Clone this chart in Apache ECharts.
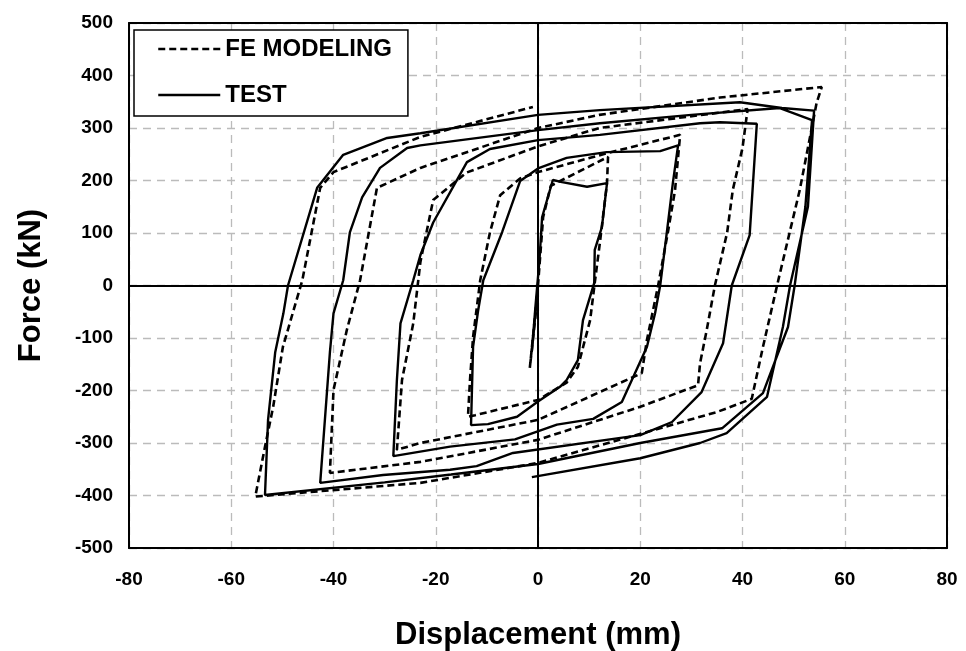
<!DOCTYPE html>
<html>
<head>
<meta charset="utf-8">
<script src="https://cdn.jsdelivr.net/npm/echarts@6/dist/echarts.min.js"></script>
<style>
html,body{margin:0;padding:0;background:#fff;}
#c{width:966px;height:651px;}
</style>
</head>
<body>
<div id="c"></div>
<script>
// Displacement (mm), Force (kN) pairs
var testCurve = [
[0,0],[-0.8,-80],[-1.2,-125],[-0.5,-40],[0.3,50],[0.8,130],[2.9,201],[4.7,197],[9.6,188],[13.5,195],
[12.5,111],[11.1,68],[11,5],[8.8,-66],[7.8,-142],[5.6,-180],[4.3,-193],[0,-221],[-4.1,-250],[-9.8,-264],[-13.1,-266],
[-12.7,-117],[-11.7,-47],[-10.7,10],[-7,102],[-3.5,199],[0,223],[5.6,243],[13.4,254],[23.9,256],[27.4,267],
[26.4,197],[25.2,101],[23.9,0],[22.9,-53],[21.3,-117],[16.4,-222],[10.8,-254],[3.7,-265],[-4.5,-293],[-17.2,-307],[-28.3,-325],
[-27.6,-180],[-26.9,-72],[-24.4,10],[-23,58],[-20.5,120],[-13.9,235],[-9.4,260],[0,277],[12.1,287],[31.7,309],[35.6,311],[42.8,308],
[41.4,96],[37.9,0],[36.2,-110],[32,-203],[26.2,-260],[20,-285],[-4.9,-319],[-12,-344],[-17.2,-351],[-30.3,-361],[-42.6,-376],
[-40.7,-127],[-40,-53],[-38.1,10],[-36.8,101],[-34.4,168],[-30.9,224],[-25.6,262],[-23,267],[0,296],[12.1,309],[30,325],[47.3,338],[53.6,315],
[52.3,150],[50.2,0],[48.9,-79],[44,-205],[36,-272],[20,-300],[0,-340],[-17,-360],[-30,-375],[-53.4,-399],
[-52.8,-256],[-51.4,-127],[-49.8,-53],[-48.9,0],[-43.2,186],[-38.1,249],[-29.5,281],[-23,290],[0,325],[12.1,334],[39.5,349],[47.7,338],[54,333],
[52.8,150],[49.3,0],[47.9,-79],[44.8,-212],[36.9,-281],[31.7,-300],[20,-329],[-1.2,-365]
];
var feCurve = [
[0,0],[-0.8,-80],[-1.6,-157],[-0.5,-60],[0,0],[1,130],[2.5,190],[13.7,245],
[13.5,195],[12.1,81],[11.1,5],[10.2,-66],[7.8,-155],[5.6,-185],[0,-218],[-12.3,-247],[-13.7,-250],
[-13.3,-180],[-12.7,-98],[-11.3,10],[-9.4,101],[-7.4,172],[-3.5,204],[0,216],[13.5,252],[27.8,287],
[26.8,181],[25.4,101],[23.5,0],[21.3,-104],[20.3,-167],[0,-256],[-23,-300],[-27.6,-313],
[-26.6,-180],[-24.4,-72],[-23,45],[-20.5,163],[-14,215],[0,265],[12,300],[41,336],
[40,262],[38.1,182],[37,101],[34.6,0],[33,-85],[31.7,-148],[31.3,-190],[20,-231],[0,-294],[-23,-336],[-40.7,-357],
[-40,-199],[-37.4,-85],[-34.8,10],[-31.5,186],[-23,224],[0,300],[12,325],[35.6,358],[55.5,378],
[54.5,348],[51.2,182],[47,10],[44,-117],[41.8,-216],[35,-241],[0,-338],[-23,-376],[-55.3,-402],
[-53.4,-307],[-51.8,-231],[-49.9,-117],[-46.1,10],[-42.6,186],[-40,216],[-23,283],[-1,340]
];
var seriesNames = ['FE MODELING', 'TEST'];
var xTicks = {min:-80, max:80, step:20};
var yTicks = {min:-500, max:500, step:100};

var chart = echarts.init(document.getElementById('c'));
var font = '"Liberation Sans", Arial, sans-serif';
var frameAxis = {
  axisLine:{show:true, onZero:false, lineStyle:{color:'#000', width:2}},
  axisTick:{show:false}, axisLabel:{show:false}, splitLine:{show:false}
};
chart.setOption({
  animation:false,
  backgroundColor:'#fff',
  grid:{left:129, top:23, width:818, height:525, show:false, containLabel:false, outerBoundsMode:'none'},
  legend:{
    orient:'vertical', left:134, top:30, padding:[7,16,9,23],
    borderColor:'#000', borderWidth:1.5, backgroundColor:'#fff',
    itemWidth:62, itemHeight:20, itemGap:22,
    itemStyle:{opacity:0},
    lineStyle:{width:2.5},
    data:[{name:seriesNames[0]},{name:seriesNames[1]}],
    textStyle:{fontFamily:font, fontWeight:'bold', fontSize:24, color:'#000', padding:[0,0,0,0]}
  },
  xAxis:[{
    type:'value', min:xTicks.min, max:xTicks.max, interval:xTicks.step,
    name:'Displacement (mm)', nameLocation:'middle', nameGap:72,
    nameTextStyle:{fontFamily:font, fontWeight:'bold', fontSize:31, color:'#000'},
    axisLine:{onZero:false, lineStyle:{color:'#000', width:2}},
    axisTick:{show:false},
    axisLabel:{fontFamily:font, fontWeight:'bold', fontSize:19, color:'#000', margin:22},
    splitLine:{show:true, lineStyle:{color:'#bbb', type:[8,6], width:1.3}}
  }, Object.assign({type:'value', position:'top', min:xTicks.min, max:xTicks.max, interval:xTicks.step}, frameAxis)],
  yAxis:[{
    type:'value', min:yTicks.min, max:yTicks.max, interval:yTicks.step,
    name:'Force (kN)', nameLocation:'middle', nameGap:82,
    nameTextStyle:{fontFamily:font, fontWeight:'bold', fontSize:31, color:'#000'},
    axisLine:{onZero:false, lineStyle:{color:'#000', width:2}},
    axisTick:{show:false},
    axisLabel:{fontFamily:font, fontWeight:'bold', fontSize:19, color:'#000', margin:16},
    splitLine:{show:true, lineStyle:{color:'#bbb', type:[8,6], width:1.3}}
  }, Object.assign({type:'value', position:'right', min:yTicks.min, max:yTicks.max, interval:yTicks.step}, frameAxis)],
  series:[
    {
      name:seriesNames[0], type:'line', data:feCurve, symbol:'none', z:3,
      lineStyle:{color:'#000', width:2.6, type:[7,4]}, itemStyle:{color:'#000'}
    },
    {
      name:seriesNames[1], type:'line', data:testCurve, symbol:'none', z:4,
      lineStyle:{color:'#000', width:2.4, type:'solid'}, itemStyle:{color:'#000'},
      markLine:{
        silent:true, symbol:['none','none'], label:{show:false},
        lineStyle:{color:'#000', width:2, type:'solid'},
        data:[{xAxis:0},{yAxis:0}]
      }
    }
  ]
});
</script>
</body>
</html>
